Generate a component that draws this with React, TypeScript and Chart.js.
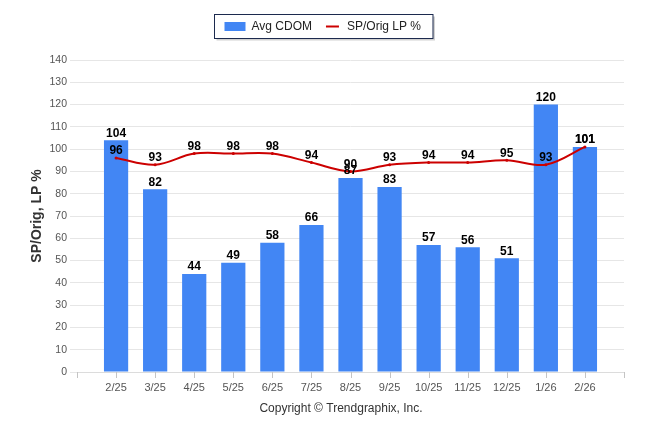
import React, { useEffect, useRef } from 'react';
import { Chart, registerables } from 'chart.js';

Chart.register(...registerables);

const categories = ['2/25', '3/25', '4/25', '5/25', '6/25', '7/25', '8/25', '9/25', '10/25', '11/25', '12/25', '1/26', '2/26'];
const avgCdom = [104, 82, 44, 49, 58, 66, 87, 83, 57, 56, 51, 120, 101];
const spOrigLp = [96, 93, 98, 98, 98, 94, 90, 93, 94, 94, 95, 93, 101];
const yMin = 0;
const yMax = 140;
const yStep = 10;
const barLabel = 'Avg CDOM';
const lineLabel = 'SP/Orig LP %';
const yTitle = 'SP/Orig, LP %';
const copyright = 'Copyright \u00A9 Trendgraphix, Inc.';

const BAR_COLOR = '#4286f4';
const LINE_COLOR = '#cc0000';
const FONT = "'Liberation Sans', Arial, sans-serif";

const dataLabelPlugin = {
  id: 'dataLabels',
  afterDatasetsDraw(chart: any) {
    const ctx = chart.ctx;
    ctx.save();
    ctx.font = `bold 12px ${FONT}`;
    ctx.fillStyle = '#000';
    ctx.textAlign = 'center';
    ctx.textBaseline = 'middle';
    chart.data.datasets.forEach((ds: any, di: number) => {
      const meta = chart.getDatasetMeta(di);
      meta.data.forEach((el: any, i: number) => {
        const v = ds.data[i].y;
        ctx.fillText(String(v), el.x, el.y - 7);
      });
    });
    ctx.restore();
  },
};

const tickMarkPlugin = {
  id: 'tickMarks',
  afterDraw(chart: any) {
    const ctx = chart.ctx;
    const xs = chart.scales.x;
    const yb = chart.chartArea.bottom;
    ctx.save();
    ctx.strokeStyle = '#c4c4c4';
    ctx.lineWidth = 1;
    ctx.beginPath();
    for (let i = -1; i <= categories.length; i++) {
      const px = Math.round(xs.getPixelForValue(i)) + 0.5;
      ctx.moveTo(px, yb);
      ctx.lineTo(px, yb + 6);
    }
    ctx.stroke();
    ctx.restore();
  },
};

const legendPlugin = {
  id: 'customLegend',
  afterDraw(chart: any) {
    const ctx = chart.ctx;
    ctx.save();
    ctx.font = `12px ${FONT}`;
    const w1 = ctx.measureText(barLabel).width;
    const w2 = ctx.measureText(lineLabel).width;
    const pad = 10;
    const sw1 = 21;
    const sw2 = 13;
    const gap = 6;
    const itemGap = 14;
    const total = pad + sw1 + gap + w1 + itemGap + sw2 + gap + w2 + pad + 4;
    const cx = 323;
    const x0 = Math.round(cx - total / 2) + 0.5;
    const y0 = 14.5;
    const h = 24;
    ctx.fillStyle = 'rgba(0,0,0,0.18)';
    ctx.fillRect(x0 + 2, y0 + 2, total, h);
    ctx.fillStyle = '#fff';
    ctx.fillRect(x0, y0, total, h);
    ctx.strokeStyle = '#1c2a4e';
    ctx.lineWidth = 1;
    ctx.strokeRect(x0, y0, total, h);
    let x = x0 + pad;
    const cy = y0 + h / 2;
    ctx.fillStyle = BAR_COLOR;
    ctx.fillRect(x, cy - 4.5, sw1, 9);
    x += sw1 + gap;
    ctx.fillStyle = '#222';
    ctx.textBaseline = 'middle';
    ctx.textAlign = 'left';
    ctx.fillText(barLabel, x, cy);
    x += w1 + itemGap;
    ctx.strokeStyle = LINE_COLOR;
    ctx.lineWidth = 2;
    ctx.beginPath();
    ctx.moveTo(x, cy);
    ctx.lineTo(x + sw2, cy);
    ctx.stroke();
    x += sw2 + gap + 2;
    ctx.fillText(lineLabel, x, cy);
    ctx.fillStyle = '#333';
    ctx.textAlign = 'center';
    ctx.font = `12px ${FONT}`;
    ctx.fillText(copyright, 341, 409);
    ctx.restore();
  },
};

export default function App() {
  const ref = useRef<HTMLCanvasElement>(null);
  useEffect(() => {
    document.body.style.margin = '0';
    if (!ref.current) return;
    const chart = new Chart(ref.current, {
      type: 'bar',
      data: {
        datasets: [
          {
            type: 'line',
            label: lineLabel,
            data: spOrigLp.map((v, i) => ({ x: i, y: v })),
            borderColor: LINE_COLOR,
            backgroundColor: LINE_COLOR,
            borderWidth: 2,
            pointRadius: 1.5,
            pointBorderWidth: 0,
            tension: 0.35,
            order: 0,
          } as any,
          {
            type: 'bar',
            label: barLabel,
            data: avgCdom.map((v, i) => ({ x: i, y: v })),
            backgroundColor: BAR_COLOR,
            barPercentage: 0.62,
            categoryPercentage: 1,
            order: 1,
          },
        ],
      },
      options: {
        animation: false,
        responsive: true,
        maintainAspectRatio: false,
        layout: { padding: { top: 60, right: 22, left: 0, bottom: 0 } },
        plugins: {
          legend: { display: false },
          tooltip: { enabled: false },
        },
        scales: {
          x: {
            type: 'linear',
            min: -1,
            max: categories.length,
            offset: false,
            grid: { drawOnChartArea: false, offset: false, tickLength: 6, color: 'rgba(0,0,0,0)' },
            border: { display: true, color: '#dcdcdc' },
            ticks: {
              stepSize: 1,
              autoSkip: false,
              maxRotation: 0,
              padding: 3,
              color: '#555',
              font: { family: FONT, size: 11 },
              callback: (v: any) => categories[v as number] ?? '',
            },
            afterFit: (s: any) => {
              s.height = 62;
            },
          },
          y: {
            min: yMin,
            max: yMax,
            grid: { color: '#e6e6e6', tickLength: 7 },
            border: { display: false },
            ticks: {
              stepSize: yStep,
              padding: 3,
              color: '#555',
              font: { family: FONT, size: 10.5 },
            },
            title: {
              display: true,
              text: yTitle,
              color: '#333',
              font: { family: FONT, size: 14, weight: 'bold' },
              padding: { top: 29, bottom: 0 },
            },
            afterFit: (s: any) => {
              s.width = 77;
            },
          },
        },
      },
      plugins: [dataLabelPlugin, tickMarkPlugin, legendPlugin],
    });
    return () => chart.destroy();
  }, []);
  return (
    <div style={{ position: 'relative', width: 646, height: 434 }}>
      <canvas ref={ref} />
    </div>
  );
}
